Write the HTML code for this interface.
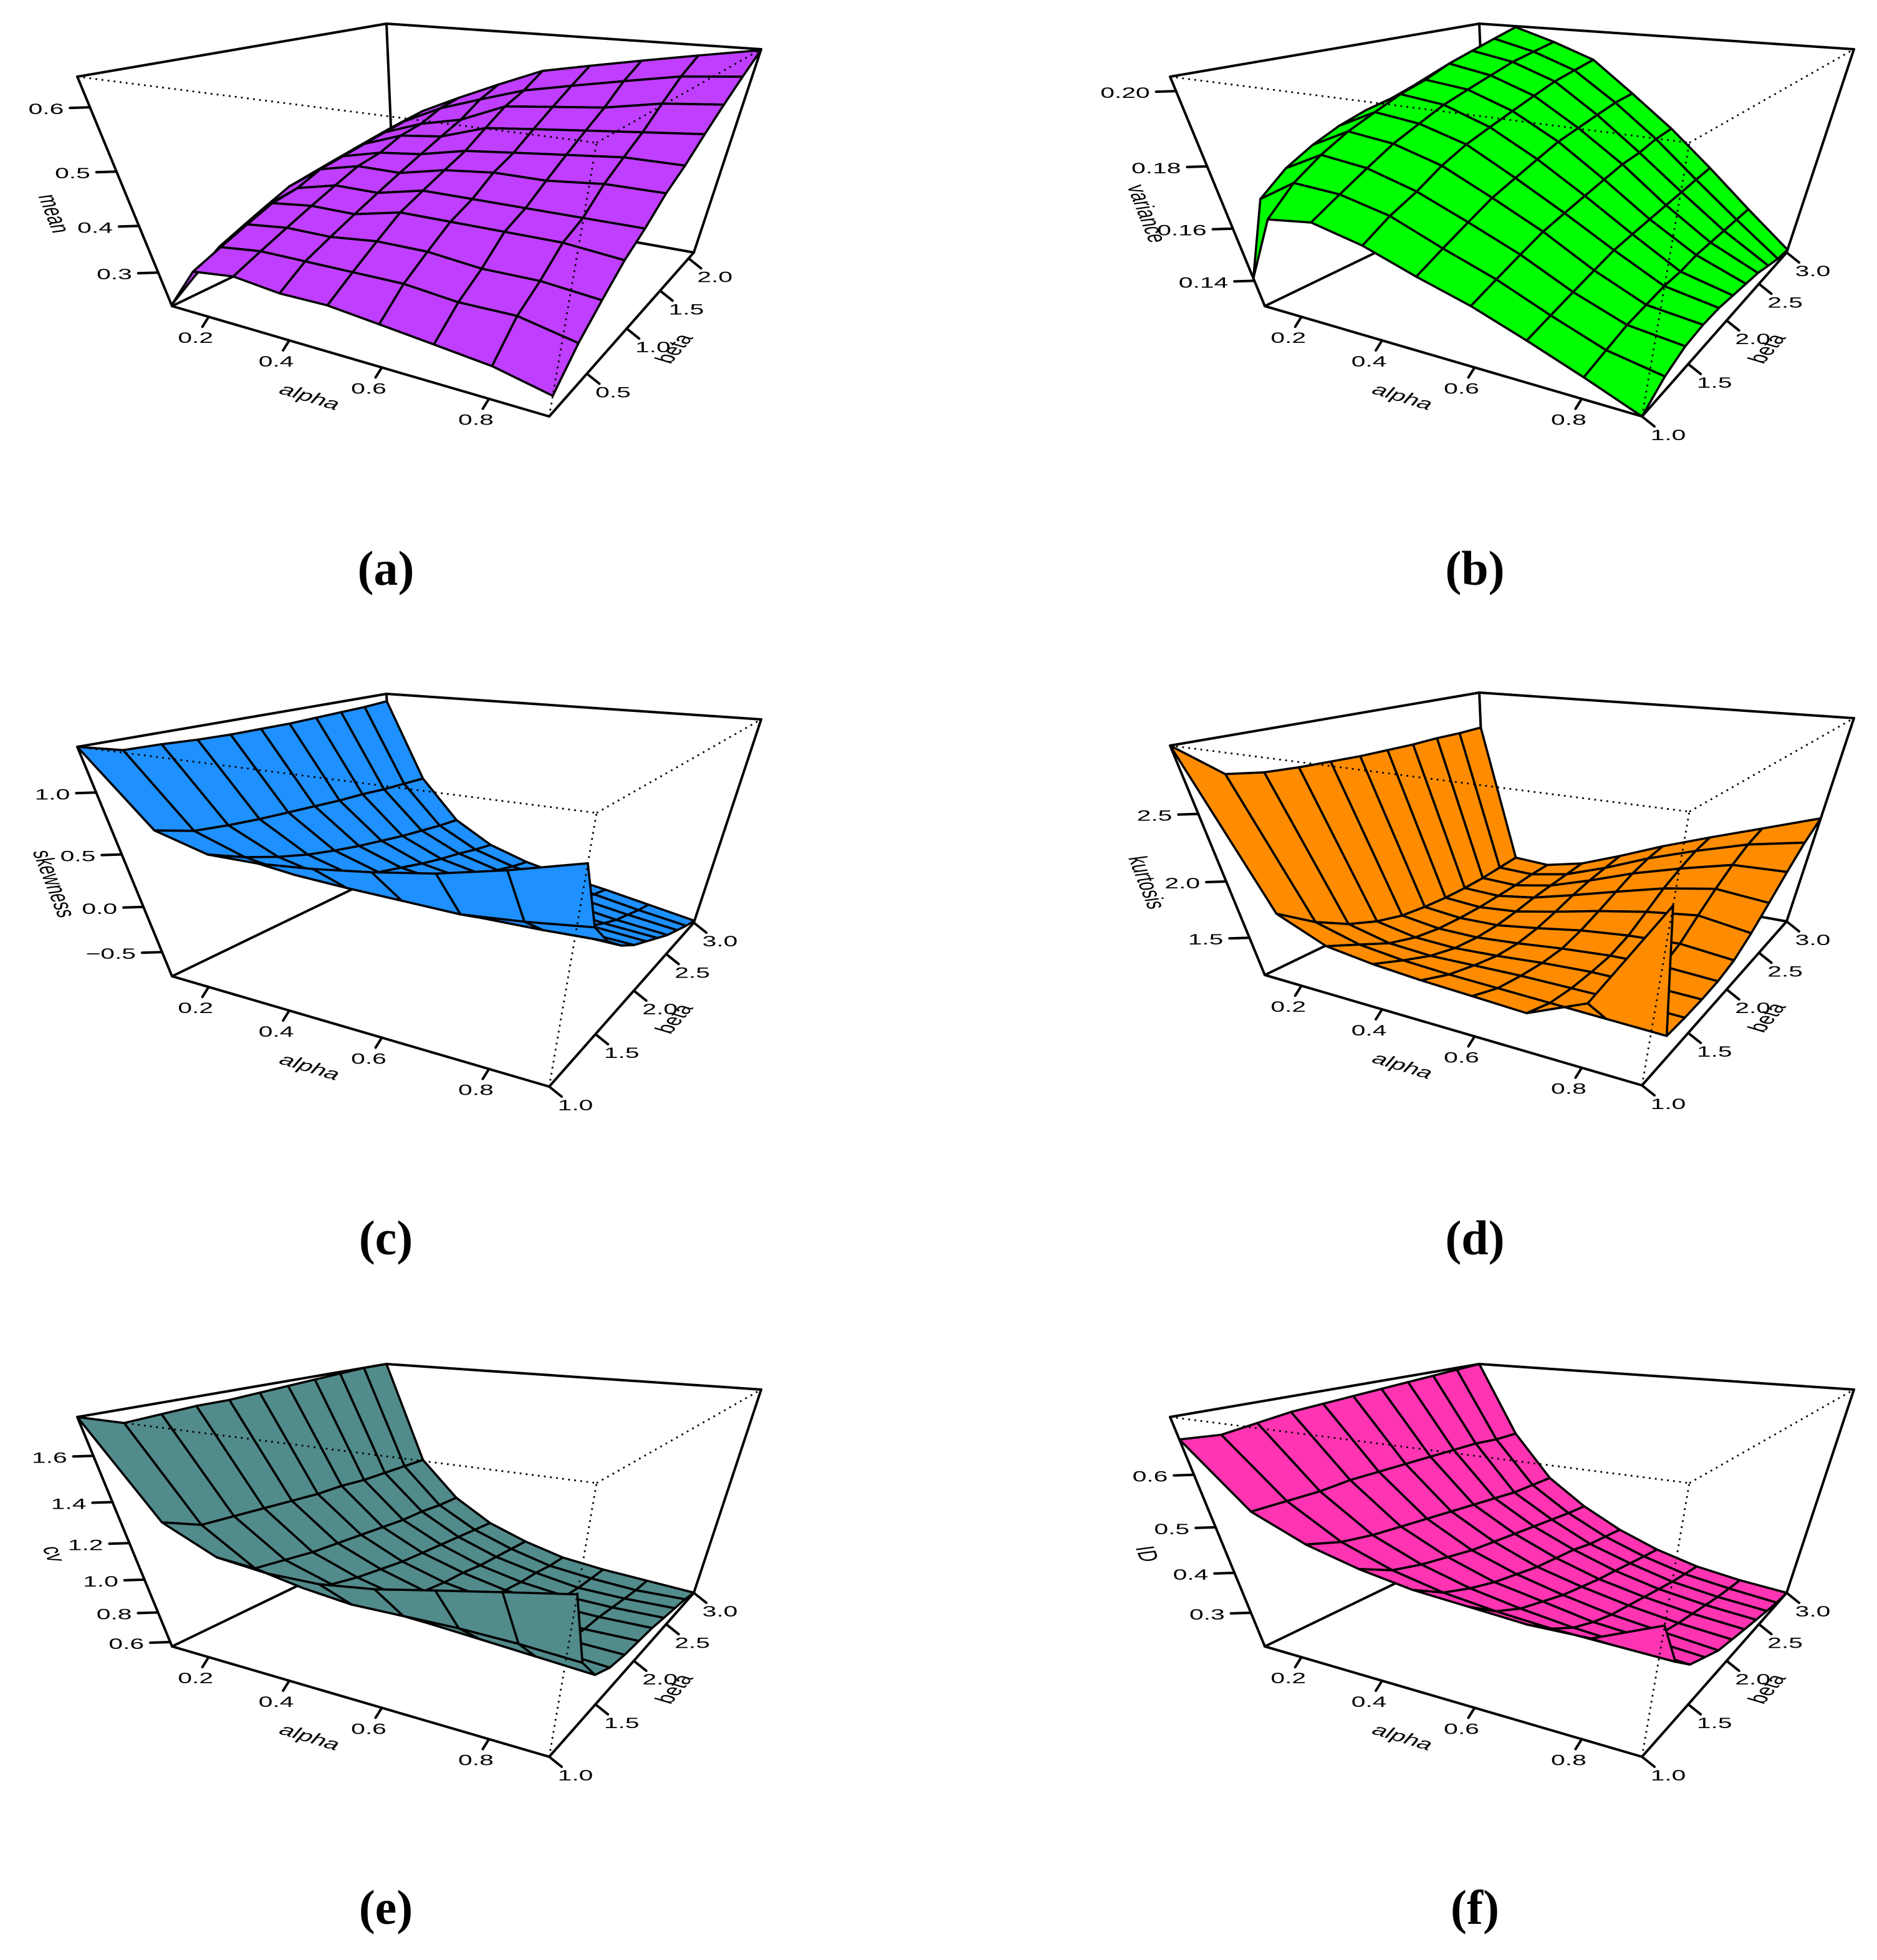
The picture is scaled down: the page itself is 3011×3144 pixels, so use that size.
<!DOCTYPE html>
<html><head><meta charset="utf-8"><title>Surface plots</title>
<style>
html,body{margin:0;padding:0;background:#fff;}
svg{display:block;}
text{font-family:"Liberation Sans",sans-serif;fill:#000;}
.cap{font-family:"Liberation Serif",serif;font-weight:bold;font-size:78px;}
</style></head>
<body>
<svg id="fig" width="3011" height="3144" viewBox="0 0 3011 3144" xmlns="http://www.w3.org/2000/svg"></svg>
<script>
// ---- data ----
const alphaGrid = [0.1,0.2,0.3,0.4,0.5,0.6,0.7,0.8,0.9];
const betaGridMean = [0.1,0.3,0.5,0.7,0.9,1.1,1.3,1.5,1.7,1.9,2.1];
const betaGrid = [1.0,1.2,1.4,1.6,1.8,2.0,2.2,2.4,2.6,2.8,3.0];
const alphaTicks = [0.2,0.4,0.6,0.8];
const alphaTickLabels = ["0.2","0.4","0.6","0.8"];
const betaTicksMean = [0.5,1.0,1.5,2.0];
const betaTickLabelsMean = ["0.5","1.0","1.5","2.0"];
const betaTicks = [1.0,1.5,2.0,2.5,3.0];
const betaTickLabels = ["1.0","1.5","2.0","2.5","3.0"];

const zMean = [
[0.22,0.25,0.28,0.30,0.32,0.34,0.35,0.36,0.37,0.38,0.39],
[0.30,0.32,0.34,0.36,0.37,0.39,0.40,0.41,0.42,0.43,0.44],
[0.31,0.33,0.35,0.37,0.39,0.41,0.42,0.44,0.45,0.47,0.48],
[0.30,0.33,0.35,0.37,0.39,0.41,0.43,0.45,0.47,0.50,0.52],
[0.30,0.33,0.36,0.39,0.41,0.43,0.45,0.48,0.51,0.53,0.56],
[0.29,0.33,0.36,0.39,0.41,0.44,0.46,0.49,0.52,0.55,0.58],
[0.28,0.32,0.35,0.39,0.41,0.44,0.47,0.50,0.53,0.57,0.60],
[0.27,0.32,0.35,0.39,0.41,0.45,0.48,0.51,0.55,0.59,0.62],
[0.25,0.30,0.34,0.38,0.41,0.45,0.48,0.52,0.56,0.60,0.64]];
const zVariance = [
[0.138,0.160,0.167,0.172,0.176,0.179,0.181,0.184,0.187,0.190,0.193],
[0.160,0.168,0.174,0.179,0.183,0.187,0.190,0.194,0.197,0.200,0.203],
[0.162,0.167,0.172,0.177,0.181,0.185,0.188,0.191,0.194,0.196,0.198],
[0.158,0.163,0.167,0.172,0.176,0.179,0.182,0.185,0.188,0.190,0.192],
[0.152,0.156,0.160,0.164,0.167,0.170,0.173,0.175,0.177,0.179,0.180],
[0.147,0.150,0.153,0.156,0.158,0.160,0.162,0.164,0.165,0.167,0.168],
[0.141,0.143,0.145,0.147,0.149,0.150,0.151,0.152,0.153,0.154,0.155],
[0.135,0.137,0.139,0.140,0.141,0.141,0.142,0.142,0.142,0.142,0.142],
[0.129,0.134,0.137,0.138,0.138,0.137,0.136,0.135,0.133,0.131,0.130]];
const zSkewness = [
[1.32,1.22,1.21,1.19,1.18,1.18,1.18,1.19,1.20,1.21,1.23],
[0.62,0.52,0.48,0.45,0.43,0.41,0.39,0.38,0.36,0.35,0.34],
[0.48,0.35,0.25,0.17,0.11,0.06,0.02,-0.02,-0.05,-0.08,-0.10],
[0.48,0.27,0.14,0.04,-0.03,-0.09,-0.15,-0.20,-0.24,-0.29,-0.33],
[0.52,0.24,0.09,-0.01,-0.09,-0.16,-0.23,-0.29,-0.35,-0.41,-0.46],
[0.58,0.22,0.06,-0.05,-0.14,-0.22,-0.29,-0.36,-0.43,-0.49,-0.55],
[0.66,0.20,0.04,-0.08,-0.18,-0.27,-0.35,-0.43,-0.50,-0.56,-0.62],
[0.78,0.24,0.04,-0.10,-0.22,-0.31,-0.41,-0.50,-0.57,-0.64,-0.70],
[0.93,0.30,0.05,-0.12,-0.25,-0.35,-0.45,-0.55,-0.63,-0.71,-0.78]];
const zKurtosis = [
[2.92,2.63,2.58,2.56,2.55,2.54,2.54,2.54,2.55,2.55,2.56],
[1.67,1.50,1.38,1.30,1.25,1.23,1.22,1.22,1.23,1.25,1.27],
[1.50,1.40,1.30,1.24,1.21,1.20,1.20,1.21,1.22,1.24,1.25],
[1.45,1.36,1.28,1.23,1.21,1.21,1.23,1.26,1.28,1.30,1.32],
[1.42,1.34,1.29,1.25,1.24,1.26,1.30,1.35,1.39,1.42,1.45],
[1.40,1.33,1.30,1.28,1.28,1.32,1.38,1.45,1.52,1.57,1.60],
[1.38,1.32,1.30,1.30,1.31,1.36,1.45,1.55,1.63,1.70,1.74],
[1.55,1.31,1.30,1.30,1.32,1.38,1.50,1.62,1.73,1.82,1.88],
[2.30,1.30,1.29,1.29,1.30,1.34,1.44,1.58,1.74,1.90,2.03]];
const zCv = [
[1.75,1.68,1.69,1.70,1.70,1.71,1.72,1.73,1.74,1.75,1.75],
[1.25,1.18,1.17,1.16,1.15,1.14,1.14,1.13,1.13,1.13,1.13],
[1.12,1.00,0.98,0.96,0.95,0.94,0.93,0.92,0.92,0.91,0.91],
[1.09,0.95,0.90,0.87,0.85,0.83,0.82,0.81,0.80,0.79,0.78],
[1.09,0.92,0.85,0.81,0.78,0.76,0.75,0.73,0.72,0.71,0.70],
[1.12,0.92,0.81,0.77,0.74,0.72,0.70,0.68,0.67,0.65,0.64],
[1.17,0.92,0.79,0.74,0.71,0.69,0.67,0.65,0.63,0.62,0.61],
[1.22,0.91,0.77,0.72,0.69,0.67,0.66,0.64,0.62,0.60,0.59],
[1.27,0.89,0.75,0.70,0.68,0.67,0.66,0.64,0.62,0.60,0.57]];
const zId = [
[0.647,0.640,0.650,0.660,0.665,0.670,0.675,0.680,0.685,0.690,0.695],
[0.51,0.51,0.51,0.515,0.515,0.515,0.515,0.515,0.515,0.51,0.51],
[0.46,0.44,0.43,0.425,0.42,0.415,0.41,0.405,0.40,0.40,0.40],
[0.43,0.40,0.385,0.375,0.365,0.36,0.355,0.35,0.345,0.34,0.337],
[0.41,0.375,0.355,0.34,0.33,0.32,0.315,0.31,0.30,0.295,0.29],
[0.40,0.36,0.335,0.32,0.305,0.295,0.285,0.278,0.27,0.262,0.255],
[0.39,0.35,0.32,0.30,0.285,0.275,0.265,0.255,0.245,0.237,0.23],
[0.39,0.345,0.31,0.29,0.272,0.26,0.25,0.24,0.23,0.222,0.215],
[0.44,0.34,0.30,0.28,0.26,0.25,0.24,0.23,0.22,0.21,0.205]];

const zTicksMean = [0.3,0.4,0.5,0.6];
const zTickLabelsMean = ["0.3","0.4","0.5","0.6"];
const zTicksVar = [0.14,0.16,0.18,0.20];
const zTickLabelsVar = ["0.14","0.16","0.18","0.20"];
const zTicksSkew = [-0.5,0.0,0.5,1.0];
const zTickLabelsSkew = ["\u22120.5","0.0","0.5","1.0"];
const zTicksKurt = [1.5,2.0,2.5];
const zTickLabelsKurt = ["1.5","2.0","2.5"];
const zTicksCv = [0.6,0.8,1.0,1.2,1.4,1.6];
const zTickLabelsCv = ["0.6","0.8","1.0","1.2","1.4","1.6"];
const zTicksId = [0.3,0.4,0.5,0.6];
const zTickLabelsId = ["0.3","0.4","0.5","0.6"];

// ---- geometry ----
const NS = "http://www.w3.org/2000/svg";
const svg = document.getElementById("fig");
const K = {Ap:[0,0],A:[152,368],B:[757,545],Bp:[833,106],C:[989,282],Cp:[1097,-44],D:[508,196],Dp:[496,-85]};
function wu(t){return t/(t+1.33*(1-t));}
function wv(t){return 1.41*t/(1+0.41*t);}
function ww(t){return t/(t+1.4*(1-t));}
function bil(P00,P10,P11,P01,u,v,i){return P00[i]*(1-u)*(1-v)+P10[i]*u*(1-v)+P11[i]*u*v+P01[i]*(1-u)*v;}
function proj(ox,oy,u,v,w,warpZ){
  u=wu(u); v=wv(v); if(warpZ) w=ww(w);
  const bx=bil(K.A,K.B,K.C,K.D,u,v,0), by=bil(K.A,K.B,K.C,K.D,u,v,1);
  const tx=bil(K.Ap,K.Bp,K.Cp,K.Dp,u,v,0), ty=bil(K.Ap,K.Bp,K.Cp,K.Dp,u,v,1);
  return [ox+bx*(1-w)+tx*w, oy+by*(1-w)+ty*w];
}
function mk(tag, attrs, parent){
  const e=document.createElementNS(NS,tag);
  for(const k in attrs) e.setAttribute(k,attrs[k]);
  parent.appendChild(e); return e;
}
function line(g,p,q,dotted,name){
  const l=mk("line",{x1:p[0].toFixed(1),y1:p[1].toFixed(1),x2:q[0].toFixed(1),y2:q[1].toFixed(1),stroke:"#000","stroke-width":dotted?2.8:4,"stroke-linecap":dotted?"butt":"round"},g);
  if(dotted) l.setAttribute("stroke-dasharray","2.8,7");
  
  
  return l;
}
function txt(g,x,y,s,anchor,rot,name,size){
  const t=mk("text",{"text-anchor":anchor,"font-size":size||24,transform:"translate("+x.toFixed(1)+","+y.toFixed(1)+") scale(1.7,1)"+(rot?" rotate("+rot+")":"")},g);
  if(rot) t.setAttribute("dominant-baseline","middle");
  t.textContent=s;
  
  
  return t;
}

function panel(cfg){
  const ox=cfg.ox, oy=cfg.oy;
  const g=mk("g",{},svg);
  
  
  const bmin=cfg.bRange[0], bmax=cfg.bRange[1], zmin=cfg.zRange[0], zmax=cfg.zRange[1];
  const U=a=>(a-0.1)/0.8, V=b=>(b-bmin)/(bmax-bmin), Wz=z=>(z-zmin)/(zmax-zmin);
  const c=(u,v,w)=>proj(ox,oy,u,v,w,false);
  const ct=(u,v,w)=>proj(ox,oy,u,v,w,true);
  line(g,c(0,0,0),c(0,1,0),false,"box-edge");
  line(g,c(0,1,0),c(1,1,0),false,"box-edge");
  line(g,c(0,1,0),c(0,1,1),false,"box-edge");
  line(g,c(0,0,1),c(0,1,1),false,"box-edge");
  line(g,c(0,1,1),c(1,1,1),false,"box-edge");
  const sg=mk("g",{},g);
  
  
  const facets=[];
  const A=cfg.alpha, Bt=cfg.beta, Z=cfg.z;
  for(let i=0;i<A.length-1;i++){
    for(let j=0;j<Bt.length-1;j++){
      const pts=[[i,j],[i+1,j],[i+1,j+1],[i,j+1]].map(([a,b])=>c(U(A[a]),V(Bt[b]),Wz(Z[a][b])));
      const uc=(U(A[i])+U(A[i+1]))/2, vc=(V(Bt[j])+V(Bt[j+1]))/2;
      facets.push({pts:pts,d:(1-uc)+vc});
    }
  }
  facets.sort((p,q)=>q.d-p.d);
  for(const f of facets){
    const p=mk("polygon",{points:f.pts.map(q=>q[0].toFixed(1)+","+q[1].toFixed(1)).join(" "),fill:cfg.color,stroke:"#000","stroke-width":3.6,"stroke-linejoin":"round"},sg);
    
    
  }
  line(g,c(0,0,0),c(0,0,1),false,"z-axis-line");
  line(g,c(1,1,0),c(1,1,1),false,"box-edge");
  line(g,c(0,0,0),c(1,0,0),false,"alpha-axis-line");
  line(g,c(1,0,0),c(1,1,0),false,"beta-axis-line");
  line(g,c(0,0,1),c(1,0,1),true,"box-edge-dotted");
  line(g,c(1,0,1),c(1,1,1),true,"box-edge-dotted");
  line(g,c(1,0,0),c(1,0,1),true,"box-edge-dotted");
  cfg.aTicks.forEach((t,k)=>{
    const p=c(U(t),0,0);
    line(g,p,[p[0]-10,p[1]+16],false,"alpha-tick");
    txt(g,p[0]-21,p[1]+42,cfg.aLabels[k],"middle",0,"alpha-tick-label");
  });
  cfg.bTicks.forEach((t,k)=>{
    const p=c(1,V(t),0);
    line(g,p,[p[0]+20,p[1]+16],false,"beta-tick");
    txt(g,p[0]+42,p[1]+38,cfg.bLabels[k],"middle",0,"beta-tick-label");
  });
  cfg.zTicks.forEach((t,k)=>{
    const p=ct(0,0,Wz(t));
    line(g,p,[p[0]-32,p[1]+1],false,"z-tick");
    txt(g,p[0]-42,p[1]+11,cfg.zLabels[k],"end",0,"z-tick-label");
  });
  txt(g,ox+372,oy+515,"alpha","middle",27,"alpha-axis-title",25);
  txt(g,ox+960,oy+437,"beta","middle",-63,"beta-axis-title",25);
  txt(g,ox-40,oy+220,cfg.zTitle,"middle",77,"z-axis-title",25);
  const cap=mk("text",{x:cfg.capX,y:cfg.capY,"text-anchor":"middle",class:"cap"},svg);
  cap.textContent=cfg.cap;
  
  
}

const LX=124, RX=1877;
panel({name:"panel-a-mean",ox:LX,oy:123,color:"#BF3EFF",alpha:alphaGrid,beta:betaGridMean,z:zMean,bRange:[0.1,2.1],zRange:[0.218,0.642],aTicks:alphaTicks,aLabels:alphaTickLabels,bTicks:betaTicksMean,bLabels:betaTickLabelsMean,zTicks:zTicksMean,zLabels:zTickLabelsMean,zTitle:"mean",cap:"(a)",capX:619,capY:938});
panel({name:"panel-b-variance",ox:RX,oy:123,color:"#00FF00",alpha:alphaGrid,beta:betaGrid,z:zVariance,bRange:[1,3],zRange:[0.129,0.2034],aTicks:alphaTicks,aLabels:alphaTickLabels,bTicks:betaTicks,bLabels:betaTickLabels,zTicks:zTicksVar,zLabels:zTickLabelsVar,zTitle:"variance",cap:"(b)",capX:2366,capY:938});
panel({name:"panel-c-skewness",ox:LX,oy:1198,color:"#1E90FF",alpha:alphaGrid,beta:betaGrid,z:zSkewness,bRange:[1,3],zRange:[-0.80,1.32],aTicks:alphaTicks,aLabels:alphaTickLabels,bTicks:betaTicks,bLabels:betaTickLabels,zTicks:zTicksSkew,zLabels:zTickLabelsSkew,zTitle:"skewness",cap:"(c)",capX:619,capY:2012});
panel({name:"panel-d-kurtosis",ox:RX,oy:1196,color:"#FF8C00",alpha:alphaGrid,beta:betaGrid,z:zKurtosis,bRange:[1,3],zRange:[1.114,2.92],aTicks:alphaTicks,aLabels:alphaTickLabels,bTicks:betaTicks,bLabels:betaTickLabels,zTicks:zTicksKurt,zLabels:zTickLabelsKurt,zTitle:"kurtosis",cap:"(d)",capX:2366,capY:2012});
panel({name:"panel-e-cv",ox:LX,oy:2273,color:"#528B8B",alpha:alphaGrid,beta:betaGrid,z:zCv,bRange:[1,3],zRange:[0.569,1.75],aTicks:alphaTicks,aLabels:alphaTickLabels,bTicks:betaTicks,bLabels:betaTickLabels,zTicks:zTicksCv,zLabels:zTickLabelsCv,zTitle:"cv",cap:"(e)",capX:619,capY:3086});
panel({name:"panel-f-id",ox:RX,oy:2273,color:"#FF34B3",alpha:alphaGrid,beta:betaGrid,z:zId,bRange:[1,3],zRange:[0.205,0.695],aTicks:alphaTicks,aLabels:alphaTickLabels,bTicks:betaTicks,bLabels:betaTickLabels,zTicks:zTicksId,zLabels:zTickLabelsId,zTitle:"ID",cap:"(f)",capX:2366,capY:3086});
</script>
</body></html>
